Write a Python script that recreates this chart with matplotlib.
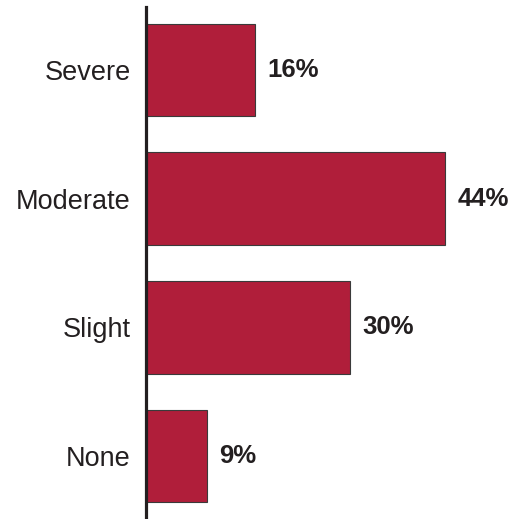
import matplotlib.pyplot as plt

categories = ['Severe', 'Moderate', 'Slight', 'None']
values = [16, 44, 30, 9]

plt.rcParams['font.family'] = ['Liberation Sans', 'DejaVu Sans']

fig = plt.figure(figsize=(5.16, 5.19), dpi=100)
ax = fig.add_axes([146 / 516, 0.0, 1 - 146 / 516, 512 / 519])

pos = list(range(len(categories)))
ax.barh(pos, values, height=0.72, color='#B01E3A', edgecolor='#3a3a3a', linewidth=0.8)

for p, v in zip(pos, values):
    ax.text(v + 1.8, p, f'{v}%', va='center', ha='left',
            fontsize=18.5, fontweight='bold', color='#231F20')

ax.set_yticks(pos)
ax.set_yticklabels(categories, fontsize=19.5, color='#231F20')
ax.tick_params(axis='y', length=0, pad=11)
ax.set_xticks([])
ax.set_xlim(0, 54.4)
ax.set_ylim(3.49, -0.49)

for s in ['top', 'right', 'bottom']:
    ax.spines[s].set_visible(False)
ax.spines['left'].set_linewidth(2.3)
ax.spines['left'].set_color('#231F20')

fig.savefig('out.png', dpi=100)
